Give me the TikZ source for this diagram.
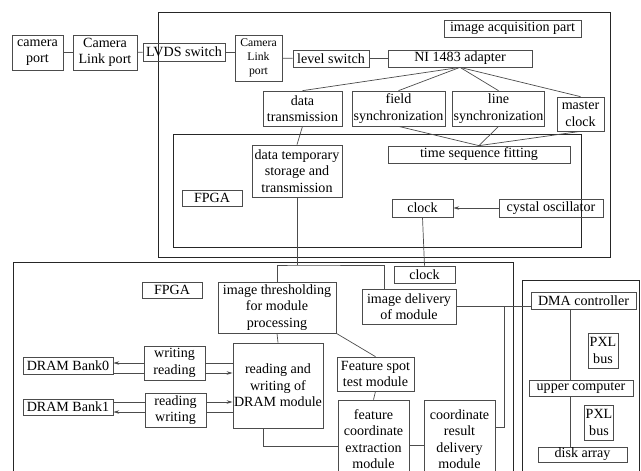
\documentclass[tikz,border=0pt]{standalone}
\usepackage{fontspec}
\setmainfont{Liberation Serif}
\usetikzlibrary{arrows,arrows.meta,positioning}

\begin{document}
\begin{tikzpicture}[x=0.03cm, y=-0.03cm, >={Stealth[length=5pt,width=3pt]},
    box/.style={draw=black!70, line width=0.6pt, inner sep=1pt, align=center, font=\fontsize{12}{14}\selectfont},
    frame/.style={draw=black!85, line width=0.7pt},
    link/.style={draw=black!70, line width=0.6pt}]

                \useasboundingbox (0,0) rectangle (641,470);
                \clip (0,0) rectangle (641,470);

                % Frames
                \draw[frame] (158,12) rectangle (610,257);
                \draw[frame] (173,134) rectangle (581,247);
                \draw[frame] (13,475) -- (13,262) -- (513,262) -- (513,475);
                \draw[frame] (522,475) -- (522,280) -- (639,280) -- (639,475);

                % Camera side
                \node[box, minimum width=1.53cm, minimum height=1.05cm] (campt) at (37.5,52.5) {camera\\port};
                \node[box, minimum width=1.92cm, minimum height=1.05cm] (clink) at (105,52.5) {Camera\\Link port};
                \node[box, minimum width=2.46cm, minimum height=0.54cm] (lvds) at (184,52) {LVDS switch};

                % Image acquisition part
                \node[box, minimum width=1.41cm, minimum height=1.38cm, font=\fontsize{10}{12}\selectfont] (clink2) at (258.5,58) {Camera\\Link\\port};
                \node[box, minimum width=2.28cm, minimum height=0.51cm] (lvl) at (331,58.5) {level switch};
                \node[box, minimum width=4.32cm, minimum height=0.51cm] (ni) at (460,58.5) {NI 1483 adapter};
                \node[box, minimum width=4.11cm, minimum height=0.51cm] (acq) at (512.5,28.5) {image acquisition part};
                \node[box, minimum width=2.37cm, minimum height=1.05cm] (dtx) at (302.5,108.5) {data\\transmission};
                \node[box, minimum width=2.79cm, minimum height=1.05cm] (fsync) at (398.5,108.5) {field\\synchronization};
                \node[box, minimum width=2.73cm, minimum height=1.05cm] (lsync) at (498.5,108.5) {line\\synchronization};
                \node[box, minimum width=1.41cm, minimum height=1.02cm] (mclk) at (580.5,114) {master\\clock};
                \node[box, minimum width=5.46cm, minimum height=0.51cm] (tsf) at (479,154.5) {time sequence fitting};
                \node[box, minimum width=2.7cm, minimum height=1.56cm] (dtemp) at (297,171) {data temporary\\storage and\\transmission};
                \node[box, minimum width=1.8cm, minimum height=0.48cm] (fpgaA) at (212,198) {FPGA};
                \node[box, minimum width=1.83cm, minimum height=0.54cm] (clkA) at (422.5,208) {clock};
                \node[box, minimum width=3.12cm, minimum height=0.54cm] (osc) at (551,208) {cystal oscillator};

                % Image processing part
                \node[box, minimum width=1.83cm, minimum height=0.51cm] (clkB) at (424.5,274.5) {clock};
                \node[box, minimum width=1.8cm, minimum height=0.48cm] (fpgaB) at (172,290) {FPGA};
                \node[box, minimum width=3.54cm, minimum height=1.53cm] (thr) at (277,307.5) {image thresholding\\for module\\processing};
                \node[box, minimum width=2.82cm, minimum height=1.05cm] (idel) at (409,306.5) {image delivery\\of module};
                \node[box, minimum width=2.7cm, minimum height=2.55cm] (dram) at (278,385.5) {reading and\\writing of\\DRAM module};
                \node[box, minimum width=1.83cm, minimum height=1.02cm] (wrA) at (174.5,363) {writing\\reading};
                \node[box, minimum width=1.83cm, minimum height=1.02cm] (wrB) at (175.5,410) {reading\\writing};
                \node[box, minimum width=2.7cm, minimum height=0.51cm] (bankA) at (68,365.5) {DRAM Bank0};
                \node[box, minimum width=2.7cm, minimum height=0.48cm] (bankB) at (68,407) {DRAM Bank1};
                \node[box, minimum width=2.31cm, minimum height=1.02cm] (spot) at (375.5,374) {Feature spot\\test module};
                \node[box, minimum width=2.13cm, minimum height=2.34cm] (fce) at (373.5,439) {feature\\coordinate\\extraction\\module};
                \node[box, minimum width=2.13cm, minimum height=2.34cm] (crd) at (459.5,439) {coordinate\\result\\delivery\\module};

                % Host side
                \node[box, minimum width=3.15cm, minimum height=0.51cm] (dma) at (583.5,300.5) {DMA controller};
                \node[box, minimum width=0.9cm, minimum height=1.05cm] (pxlA) at (603,350.5) {PXL\\bus};
                \node[box, minimum width=3.12cm, minimum height=0.48cm] (upc) at (581,388) {upper computer};
                \node[box, minimum width=0.84cm, minimum height=1.05cm] (pxlB) at (599,422.5) {PXL\\bus};
                \node[box, minimum width=2.67cm, minimum height=0.45cm] (disk) at (582.5,454.5) {disk array};

                % Connections of the camera chain
                \draw[link] (campt) -- (clink);
                \draw[link] (clink) -- (lvds);
                \draw[link] (lvds.east) -- (lvds.east -| clink2.west);
                \draw[link] (clink2) -- (lvl);
                \draw[link] (lvl) -- (ni);

                % Adapter outputs
                \draw[link] (ni.south) -- (dtx.north);
                \draw[link] (ni.south) -- (fsync.north);
                \draw[link] (ni.south) -- (lsync.north);
                \draw[link] (ni.south) -- (mclk.north);
                \draw[link] (fsync.south) -- (tsf.north);
                \draw[link] (lsync.south) -- (tsf.north);
                \draw[link] (mclk.south) -- (tsf.north);
                \draw[link] (dtx.south) -- (dtemp.north);
                \draw[link,->] (osc) -- (clkA);

                % Down to the processing FPGA
                \coordinate (split) at (297,265);
                \coordinate (jd) at (384,289);
                \draw[link] (dtemp.south) -- (split);
                \draw[link] (thr.north) |- (split) -| (jd);
                \draw[link] (clkA.south) -- (clkB.north);

                % DRAM banks
                \coordinate (w0) at (0,363);
                \coordinate (r0) at (0,373);
                \coordinate (r1) at (0,402);
                \coordinate (w1) at (0,412);
                \draw[link] (dram.west |- w0) -- (wrA.east |- w0);
                \draw[link,->] (wrA.west |- w0) -- (bankA.east |- w0);
                \draw[link] (bankA.east |- r0) -- (wrA.west |- r0);
                \draw[link,->] (wrA.east |- r0) -- (dram.west |- r0);
                \draw[link] (bankB.east |- r1) -- (wrB.west |- r1);
                \draw[link,->] (wrB.east |- r1) -- (dram.west |- r1);
                \draw[link] (dram.west |- w1) -- (wrB.east |- w1);
                \draw[link,->] (wrB.west |- w1) -- (bankB.east |- w1);

                % Processing chain
                \draw[link] (thr.south) -- (dram.north);
                \draw[link] (thr.south east) -- (spot.north);
                \draw[link] (spot.south) -- (fce.north);
                \draw[link] ([xshift=-0.45cm]dram.south) |- ([yshift=-0.21cm]fce.west);
                \draw[link] ([yshift=-0.18cm]fce.east) -- ([yshift=-0.18cm]crd.west);

                % Results to the host
                \coordinate (vj) at (504,306.5);
                \draw[link] ([yshift=0.36cm]crd.east) -| (vj);
                \draw[link] (idel.east) -- (idel.east -| dma.west);
                \coordinate (bus) at (570,0);
                \draw[link] (dma.south -| bus) -- (upc.north -| bus);
                \draw[link] (upc.south -| bus) -- (disk.north -| bus);

\end{tikzpicture}
\end{document}
